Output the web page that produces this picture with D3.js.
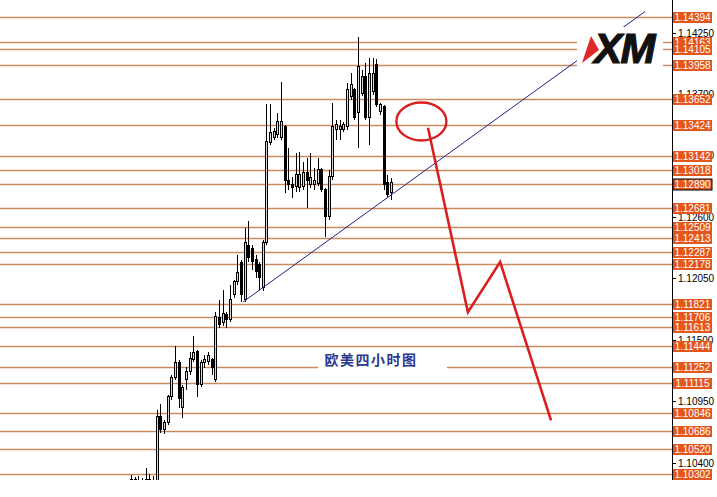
<!DOCTYPE html>
<html><head><meta charset="utf-8">
<script src="https://cdn.jsdelivr.net/npm/d3@7"></script>
<style>html,body{margin:0;padding:0;background:#fff;}svg{display:block;}</style>
</head><body>
<svg id="c" width="717" height="497"></svg>
<script>
// ---- data ----
const levelPrices = [1.14394,1.14163,1.14105,1.13958,1.13652,1.13424,1.13142,1.13018,1.12890,1.12681,1.12509,1.12413,1.12287,1.12178,1.11821,1.11706,1.11613,1.11444,1.11252,1.11115,1.10846,1.10686,1.10520,1.10302];
const levelLabels = ["1.14394","1.14163","1.14105","1.13958","1.13652","1.13424","1.13142","1.13018","1.12890","1.12681","1.12509","1.12413","1.12287","1.12178","1.11821","1.11706","1.11613","1.11444","1.11252","1.11115","1.10846","1.10686","1.10520","1.10302"];
const tickPrices = [1.14250,1.13700,1.13150,1.12600,1.12050,1.11500,1.10950,1.10400];
const tickLabels = ["1.14250","1.13700","1.13150","1.12600","1.12050","1.11500","1.10950","1.10400"];
const opens  = [1.10226,1.10244,1.10208,1.10235,1.10190,1.10244,1.10208,1.10155,1.10808,1.10692,1.10763,1.10987,1.11166,1.11292,1.10889,1.11140,1.11211,1.11319,1.11390,1.11095,1.11292,1.11301,1.11319,1.11140,1.11695,1.11650,1.11722,1.11677,1.11901,1.12017,1.12187,1.11856,1.12348,1.12321,1.12214,1.12169,1.11963,1.12366,1.13262,1.13315,1.13333,1.13315,1.13405,1.12930,1.12886,1.12868,1.12859,1.12868,1.12993,1.12886,1.12886,1.12903,1.13020,1.12841,1.12599,1.12957,1.13378,1.13378,1.13378,1.13405,1.13674,1.13736,1.13530,1.13709,1.13853,1.13494,1.13718,1.13960,1.13539,1.13584,1.12912,1.12814];
const highs  = [1.10289,1.10271,1.10280,1.10262,1.10352,1.10298,1.10280,1.10871,1.10925,1.10781,1.11005,1.11184,1.11444,1.11319,1.11095,1.11256,1.11390,1.11534,1.11408,1.11319,1.11363,1.11390,1.11337,1.11748,1.11856,1.11945,1.11748,1.11990,1.12035,1.12259,1.12214,1.12501,1.12563,1.12348,1.12259,1.12196,1.12393,1.13611,1.13611,1.13396,1.13530,1.13808,1.13423,1.13217,1.12957,1.13172,1.13181,1.13092,1.13127,1.13172,1.13038,1.13127,1.13038,1.12859,1.13020,1.13620,1.13468,1.13468,1.13450,1.13799,1.13888,1.13754,1.14211,1.13915,1.13978,1.14023,1.14023,1.14014,1.13620,1.13602,1.12975,1.12948];
const lows   = [1.10155,1.10155,1.10140,1.10110,1.10155,1.10155,1.10140,1.10110,1.10665,1.10656,1.10737,1.10960,1.11140,1.10889,1.10799,1.11050,1.11184,1.11301,1.10987,1.11077,1.11247,1.11274,1.11184,1.11122,1.11605,1.11623,1.11605,1.11659,1.11874,1.11990,1.11838,1.11838,1.12196,1.12124,1.12053,1.11945,1.11936,1.12348,1.13244,1.13288,1.13306,1.13288,1.12814,1.12841,1.12769,1.12823,1.12823,1.12841,1.12680,1.12859,1.12841,1.12877,1.12823,1.12420,1.12572,1.12930,1.13288,1.13288,1.13360,1.13378,1.13647,1.13468,1.13217,1.13682,1.13468,1.13244,1.13691,1.13584,1.13512,1.12841,1.12778,1.12751];
const closes = [1.10244,1.10208,1.10235,1.10190,1.10244,1.10208,1.10226,1.10808,1.10692,1.10763,1.10987,1.11166,1.11292,1.10978,1.11068,1.11211,1.11328,1.11381,1.11095,1.11292,1.11319,1.11363,1.11247,1.11704,1.11632,1.11739,1.11677,1.11856,1.12017,1.12098,1.11901,1.12366,1.12232,1.12196,1.12107,1.12053,1.12366,1.13271,1.13351,1.13360,1.13450,1.13450,1.12930,1.12886,1.12859,1.12975,1.12975,1.12993,1.12930,1.12948,1.12930,1.13020,1.12841,1.12599,1.12957,1.13405,1.13423,1.13405,1.13423,1.13736,1.13781,1.13494,1.13942,1.13853,1.13494,1.13888,1.13888,1.13602,1.13602,1.12886,1.12796,1.12912];
// trend line (bar index, price)
const trendIdx = [30.6, 140.4];
const trendPrice = [1.11838, 1.14439];
// projected path (bar index, price)
const projIdx = [81.1, 92.0, 100.8, 114.7];
const projPrice = [1.13398, 1.11747, 1.12196, 1.10778];
// highlighted zone centre
const zoneIdx = 79.3, zonePrice = 1.13454;
const titleText = "欧美四小时图";

// ---- scales ----
const svg = d3.select("#c");
const y = d3.scaleLinear().domain([1.10302, 1.14394]).range([473.5, 16.5]);
const x = d3.scaleLinear().domain([0, 71]).range([131, 391]);
const axisX = 672;

const defs = svg.append("defs");
defs.append("clipPath").attr("id","plot").append("rect").attr("x",0).attr("y",0).attr("width",axisX).attr("height",480);
const plot = svg.append("g").attr("clip-path","url(#plot)");

// level lines
plot.selectAll("line.lvl").data(levelPrices).enter().append("line")
  .attr("x1",0).attr("x2",axisX)
  .attr("y1",d=>Math.round(y(d))+0.5).attr("y2",d=>Math.round(y(d))+0.5)
  .attr("stroke","#c98a60").attr("stroke-width",1.6);

// candles
const idx = d3.range(opens.length);
const cg = plot.append("g").attr("shape-rendering","crispEdges");
cg.selectAll("line.w").data(idx).enter().append("line")
  .attr("x1",i=>Math.round(x(i))+0.5).attr("x2",i=>Math.round(x(i))+0.5)
  .attr("y1",i=>y(highs[i])).attr("y2",i=>y(lows[i]))
  .attr("stroke","#000").attr("stroke-width",1);
cg.selectAll("rect.b").data(idx).enter().append("rect")
  .attr("x",i=>Math.round(x(i))-0.5).attr("width",2)
  .attr("y",i=>y(Math.max(opens[i],closes[i])))
  .attr("height",i=>Math.max(1,Math.abs(y(opens[i])-y(closes[i]))))
  .attr("fill",i=>closes[i]>=opens[i]?"#d8d8d8":"#000")
  .attr("stroke","#000").attr("stroke-width",1);

// trend line
plot.append("line")
  .attr("x1",x(trendIdx[0])).attr("y1",y(trendPrice[0]))
  .attr("x2",x(trendIdx[1])).attr("y2",y(trendPrice[1]))
  .attr("stroke","#20208a").attr("stroke-width",1);

// title with white backing
plot.append("rect").attr("x",318).attr("y",349).attr("width",129).attr("height",22).attr("fill","#fff");
plot.append("text").attr("x",371).attr("y",365).attr("text-anchor","middle")
  .attr("font-family","'Noto Sans CJK SC'").attr("font-weight","bold").attr("font-size",14)
  .attr("letter-spacing",1.5).attr("fill","#2b3990").text(titleText);

// projection
const pts = projIdx.map((d,i)=>[x(d), y(projPrice[i])]);
plot.append("path").attr("d",d3.line()(pts)).attr("fill","none")
  .attr("stroke","#d92020").attr("stroke-width",2.6).attr("stroke-linejoin","miter");
plot.append("ellipse").attr("cx",x(zoneIdx)).attr("cy",y(zonePrice)).attr("rx",25).attr("ry",19)
  .attr("fill","none").attr("stroke","#d92020").attr("stroke-width",2.4);

// logo
plot.append("rect").attr("x",577).attr("y",27).attr("width",86).attr("height",41).attr("fill","#fff");
plot.append("polygon").attr("points","591,36 599,50 582,63").attr("fill","#e02828");
plot.append("text").attr("x",594).attr("y",63).attr("font-family","'Liberation Sans',Arial")
  .attr("font-weight","bold").attr("font-style","italic").attr("font-size",42)
  .attr("letter-spacing",-1.5).attr("fill","#111").attr("stroke","#111").attr("stroke-width",1.2).text("XM");

// right axis
svg.append("line").attr("x1",axisX+0.5).attr("x2",axisX+0.5).attr("y1",0).attr("y2",480)
  .attr("stroke","#000").attr("stroke-width",1);
const tg = svg.append("g");
tickPrices.forEach((p,i)=>{
  const yy = Math.round(y(p))+0.5;
  tg.append("line").attr("x1",axisX).attr("x2",axisX+4).attr("y1",yy).attr("y2",yy).attr("stroke","#000");
  tg.append("text").attr("x",axisX+6).attr("y",yy).attr("dy","0.35em")
    .attr("font-family","'Liberation Sans',Arial").attr("font-size",10).attr("fill","#000").text(tickLabels[i]);
});
const lg = svg.append("g");
levelPrices.forEach((p,i)=>{
  const yy = Math.round(y(p));
  lg.append("rect").attr("x",axisX+1).attr("y",yy-5).attr("width",39).attr("height",11)
    .attr("fill","#e4571c")
    .attr("stroke", levelLabels[i]==="1.12890" ? "#000" : "none").attr("stroke-width",1);
  lg.append("text").attr("x",axisX+20.5).attr("y",yy+0.5).attr("dy","0.35em").attr("text-anchor","middle")
    .attr("font-family","'Liberation Sans',Arial").attr("font-size",10).attr("fill","#fff").text(levelLabels[i]);
});
</script>
</body></html>
